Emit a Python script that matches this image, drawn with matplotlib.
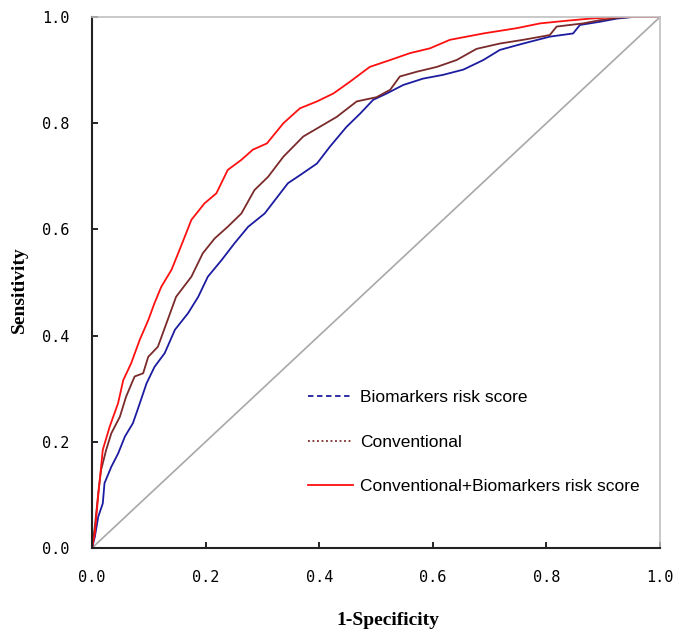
import matplotlib
matplotlib.use("Agg")
import matplotlib.pyplot as plt
from matplotlib.lines import Line2D

# ROC curves (x = 1-specificity, y = sensitivity)
combined_x = [0.0, 0.005, 0.011, 0.019, 0.031, 0.046, 0.055, 0.069, 0.084, 0.099,
              0.110, 0.122, 0.140, 0.154, 0.175, 0.198, 0.219, 0.239, 0.263, 0.283,
              0.308, 0.337, 0.366, 0.396, 0.425, 0.454, 0.489, 0.525, 0.560, 0.595,
              0.630, 0.689, 0.748, 0.789, 0.836, 0.877, 0.924, 1.0]
combined_y = [0.0, 0.028, 0.100, 0.185, 0.228, 0.273, 0.316, 0.348, 0.392, 0.429,
              0.461, 0.492, 0.524, 0.561, 0.618, 0.649, 0.668, 0.712, 0.731, 0.750,
              0.762, 0.800, 0.828, 0.841, 0.856, 0.878, 0.906, 0.919, 0.932, 0.941,
              0.957, 0.969, 0.979, 0.988, 0.993, 0.997, 1.0, 1.0]

conv_x = [0.0, 0.005, 0.011, 0.016, 0.025, 0.034, 0.049, 0.060, 0.075, 0.090,
          0.099, 0.116, 0.131, 0.148, 0.175, 0.195, 0.216, 0.239, 0.263, 0.286,
          0.310, 0.337, 0.372, 0.396, 0.431, 0.466, 0.501, 0.525, 0.542, 0.572,
          0.607, 0.642, 0.677, 0.718, 0.759, 0.806, 0.818, 0.865, 0.894, 0.930,
          0.952, 1.0]
conv_y = [0.0, 0.040, 0.103, 0.147, 0.185, 0.216, 0.247, 0.285, 0.323, 0.329,
          0.360, 0.379, 0.423, 0.473, 0.511, 0.555, 0.583, 0.605, 0.630, 0.674,
          0.699, 0.737, 0.775, 0.790, 0.812, 0.841, 0.849, 0.863, 0.888, 0.897,
          0.906, 0.919, 0.940, 0.950, 0.957, 0.966, 0.982, 0.988, 0.994, 0.999,
          1.0, 1.0]

bio_x = [0.0, 0.005, 0.011, 0.019, 0.022, 0.034, 0.046, 0.058, 0.072, 0.084,
         0.096, 0.110, 0.128, 0.146, 0.169, 0.187, 0.204, 0.228, 0.251, 0.275,
         0.304, 0.327, 0.345, 0.366, 0.396, 0.419, 0.448, 0.472, 0.495, 0.519,
         0.548, 0.583, 0.618, 0.654, 0.689, 0.718, 0.759, 0.806, 0.847, 0.859,
         0.894, 0.924, 0.952, 1.0]
bio_y = [0.0, 0.021, 0.059, 0.084, 0.122, 0.153, 0.178, 0.210, 0.235, 0.272,
         0.310, 0.341, 0.367, 0.411, 0.442, 0.473, 0.511, 0.542, 0.574, 0.605,
         0.630, 0.662, 0.687, 0.702, 0.724, 0.756, 0.793, 0.818, 0.844, 0.856,
         0.872, 0.884, 0.891, 0.901, 0.919, 0.938, 0.950, 0.963, 0.969, 0.985,
         0.991, 0.997, 1.0, 1.0]

labels = ['Biomarkers risk score', 'Conventional',
          'Conventional+Biomarkers risk score']
ticks = [0.0, 0.2, 0.4, 0.6, 0.8, 1.0]

BLUE, BROWN, RED = '#1c1ca0', '#7a2a2a', '#ff1010'

fig = plt.figure(figsize=(6.81, 6.33), dpi=100)
ax = fig.add_axes([92 / 681, 1 - 548 / 633, 568 / 681, 531 / 633])

ax.plot([0, 1], [0, 1], color='#a8a8a8', lw=1.2)
ax.plot(bio_x, bio_y, color=BLUE, lw=1.3)
ax.plot(conv_x, conv_y, color=BROWN, lw=1.3)
ax.plot(combined_x, combined_y, color=RED, lw=1.3)

ax.set_xlim(0, 1); ax.set_ylim(0, 1)
ax.set_xticks(ticks); ax.set_yticks(ticks)
ax.set_xticklabels([f"{t:.1f}" for t in ticks], family='DejaVu Sans Mono', fontsize=11)
ax.set_yticklabels([f"{t:.1f}" for t in ticks], family='DejaVu Sans Mono', fontsize=11)
ax.tick_params(direction='in', length=4, width=1.2, pad=16, top=False, right=False)

for s in ('left', 'bottom'):
    ax.spines[s].set_linewidth(1.5); ax.spines[s].set_color('#222222')
for s in ('top', 'right'):
    ax.spines[s].set_linewidth(1.2); ax.spines[s].set_color('#c0c0c0')

ax.set_xlabel('1-Specificity', family='Liberation Serif', fontweight='bold', fontsize=14)
ax.set_ylabel('Sensitivity', family='Liberation Serif', fontweight='bold', fontsize=14)
ax.xaxis.set_label_coords(0.521, -0.12)
ax.yaxis.set_label_coords(-0.112, 0.486)

handles = [Line2D([], [], color=BLUE, ls=(0, (3, 2)), lw=1.3),
           Line2D([], [], color=BROWN, ls=(0, (1, 1.5)), lw=1.3),
           Line2D([], [], color=RED, ls='-', lw=1.3)]
ax.legend(handles, labels, loc='upper left', bbox_to_anchor=(0.38, 0.2975),
          frameon=False, borderpad=0, borderaxespad=0, handlelength=2.6,
          handletextpad=0.4, labelspacing=1.69,
          prop={'family': 'Liberation Sans', 'size': 12.5})

fig.savefig('out.png', dpi=100)
